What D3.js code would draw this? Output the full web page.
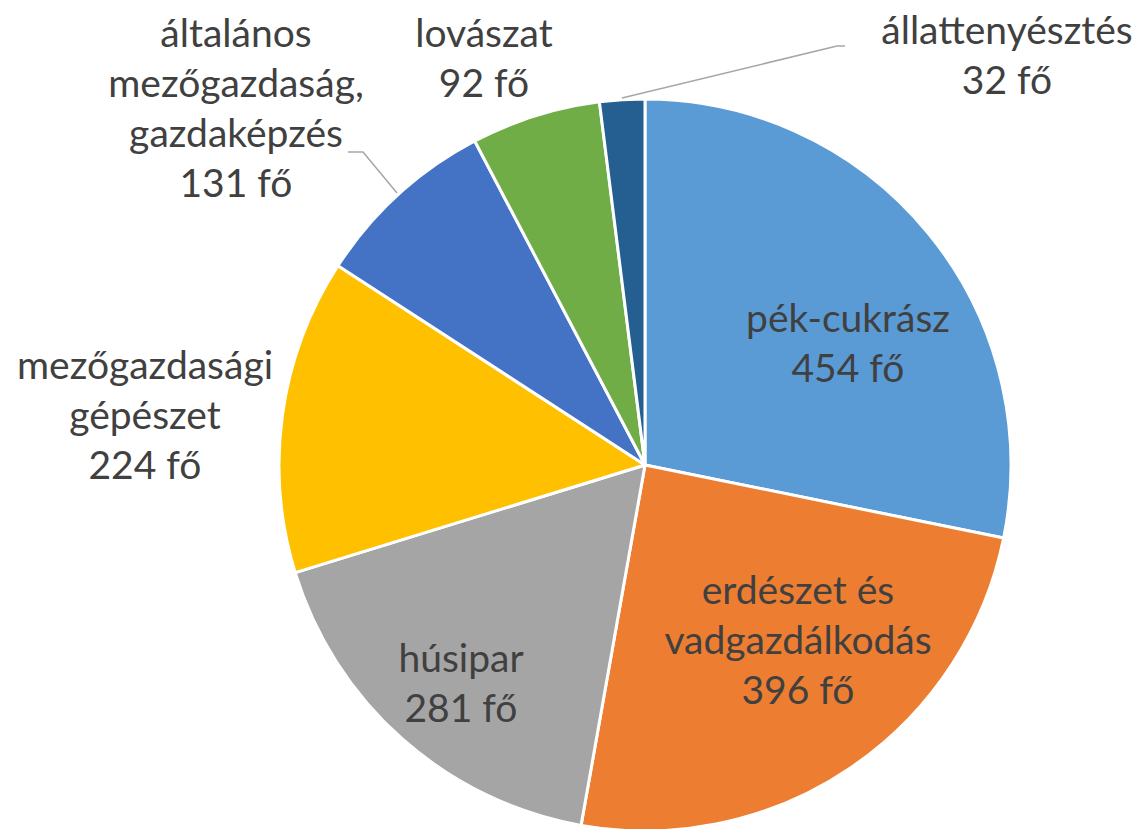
<!DOCTYPE html>
<html>
<head>
<meta charset="utf-8">
<script src="https://cdn.jsdelivr.net/npm/d3@7"></script>
<style>
  body { margin: 0; background: #fff; }
  text { font-family: Lato, "Open Sans", sans-serif; fill: #404040; }
</style>
</head>
<body>
<div id="chart"></div>
<script>
// data
var categories = ["pék-cukrász", "erdészet és vadgazdálkodás", "húsipar", "mezőgazdasági gépészet",
                  "általános mezőgazdaság, gazdaképzés", "lovászat", "állattenyésztés"];
var values = [454, 396, 281, 224, 131, 92, 32];
var labelLines = [
  ["pék-cukrász"],
  ["erdészet és", "vadgazdálkodás"],
  ["húsipar"],
  ["mezőgazdasági", "gépészet"],
  ["általános", "mezőgazdaság,", "gazdaképzés"],
  ["lovászat"],
  ["állattenyésztés"]
];
var colors = ["#5B9BD5", "#ED7D31", "#A5A5A5", "#FFC000", "#4472C4", "#70AD47", "#255E91"];

var width = 1140, height = 829;
var cx = 645, cy = 465, radius = 366;

// label anchor points (center of first line)
var labelPos = [
  [848, 332], [798, 604], [461, 672], [145, 379], [236, 47], [484, 47], [1007, 44]
];
var lineH = 50;

var svg = d3.select("#chart").append("svg")
    .attr("width", width).attr("height", height);

var g = svg.append("g").attr("transform", "translate(" + cx + "," + cy + ")");

var pie = d3.pie().sort(null).value(function(d) { return d; });
var arcs = pie(values);
var arcGen = d3.arc().innerRadius(0).outerRadius(radius);

g.selectAll("path.slice")
  .data(arcs)
  .enter().append("path")
    .attr("class", "slice")
    .attr("d", arcGen)
    .attr("fill", function(d, i) { return colors[i]; })
    .attr("stroke", "#fff")
    .attr("stroke-width", 3)
    .attr("stroke-linejoin", "round");

// leader lines
var leaders = [
  { i: 6, pts: [[-23, -367], [192, -419], [200, -419]] },
  { i: 4, pts: [[-248, -272], [-282, -313], [-297, -313]] }
];
leaders.forEach(function(l) {
  g.append("path")
    .attr("d", d3.line()(l.pts))
    .attr("fill", "none")
    .attr("stroke", "#A6A6A6")
    .attr("stroke-width", 1.5);
});

// labels
labelLines.forEach(function(lines, i) {
  var t = svg.append("text")
    .attr("text-anchor", "middle")
    .style("font-size", "39px");
  var all = lines.concat([values[i] + " fő"]);
  all.forEach(function(s, k) {
    t.append("tspan")
      .attr("x", labelPos[i][0])
      .attr("y", labelPos[i][1] + k * lineH)
      .text(s);
  });
});
</script>
</body>
</html>
